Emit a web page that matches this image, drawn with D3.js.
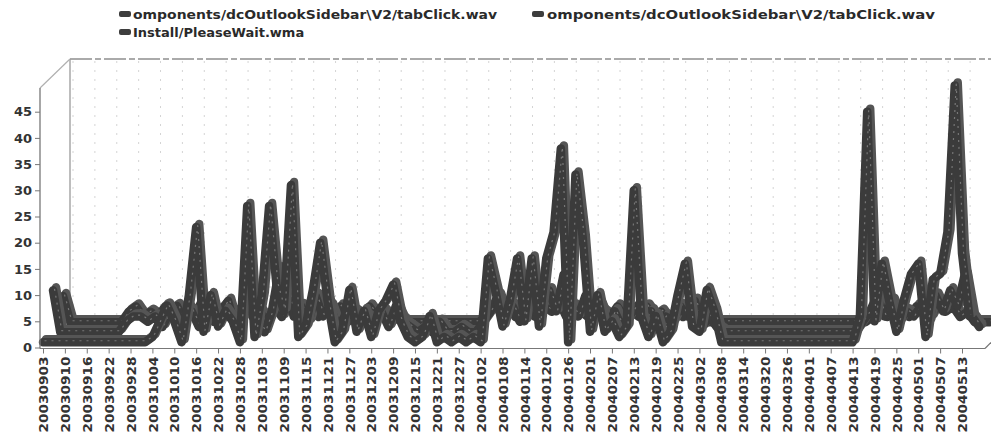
<!DOCTYPE html>
<html><head><meta charset="utf-8">
<script src="https://cdn.jsdelivr.net/npm/d3@7"></script>
<style>body{margin:0;background:#fff}svg{display:block}</style>
</head><body><svg id="c" width="991" height="442"></svg>
<script>
const tickLabels = ["20030903","20030910","20030916","20030922","20030928","20031004","20031010","20031016","20031022","20031028","20031103","20031109","20031115","20031121","20031127","20031203","20031209","20031215","20031221","20031227","20040102","20040108","20040114","20040120","20040126","20040201","20040207","20040213","20040219","20040225","20040302","20040308","20040314","20040320","20040326","20040401","20040407","20040413","20040419","20040425","20040501","20040507","20040513"];
const yTicks = [0,5,10,15,20,25,30,35,40,45];
const seriesNames = ["omponents/dcOutlookSidebar\\V2/tabClick.wav","omponents/dcOutlookSidebar\\V2/tabClick.wav","Install/PleaseWait.wma"];
// front series
const tabClickA = [1,1,1,1,1,1,1,1,1,1,1,1,1,1,1,
 2,5,8,5,1,10,23,3,10,4,7,5,1,27,2,10,27,12,7,31,2,4,11,20,9,1,3,11,3,7,2,7,9,12,5,2,
 1,2,6,1,2,1,2,1,2,1,
 17,11,4,9,17,5,17,4,17,22,38,1,33,21,3,10,3,5,2,4,30,6,2,6,1,3,10,16,4,3,11,7,
 1,1,1,1,1,1,1,1,1,1,1,1,1,1,1,1,1,1,1,
 6,45,5,16,9,3,9,14,16,2,13,14,22,50,18,6];
// middle series
const tabClickB = [9,1,1,1,1,1,1,1,1,1,
 3,4,4,3,4,2,5,6,3,5,2,6,3,5,7,2,4,6,3,1,5,13,10,4,6,3,8,4,6,2,4,5,2,4,3,5,2,6,3,2,
 1,2,1,3,1,1,2,1,1,3,
 5,8,4,6,3,7,4,6,9,5,12,6,4,8,4,6,2,5,2,4,6,3,5,2,4,3,6,4,7,2,4,2,1,
 1,1,1,1,1,1,1,1,1,1,1,1,1,1,1,1,1,1,
 3,5,8,4,7,3,5,4,6,3,8,5,9,6,12,4,2];
// back series
const pleaseWait = [6,1,1,1,1,1,1,1,1,
 3,4,2,3,2,4,3,2,4,2,5,3,2,4,2,3,5,2,3,1,4,2,6,3,2,5,2,3,2,4,1,3,2,4,2,3,1,2,
 1,1,1,1,1,1,1,1,1,1,1,
 2,4,3,5,2,4,3,2,4,3,5,2,4,3,2,5,3,2,4,2,3,2,4,2,3,1,3,2,3,2,
 1,1,1,1,1,1,1,1,1,1,1,1,1,1,1,1,1,1,1,1,1,1,1,
 2,3,2,4,3,2,4,3,2,5,3,4,2,3,
 1,1,1];

const svg = d3.select("#c");
const font = "'DejaVu Sans', Verdana, sans-serif";
const depth = 30;
const x = d3.scaleLinear().domain([0, (tickLabels.length-1)*3]).range([43, 962]);
const y = d3.scaleLinear().domain([0, 45]).range([347.5, 111.7]);
const y0 = y(0), wallTop = 59, wallLeft = 70;

// back wall gridlines
const grid = svg.append("g");
tickLabels.forEach((t,k)=>{
  grid.append("line").attr("x1", x(k*3)+depth).attr("x2", x(k*3)+depth)
    .attr("y1", wallTop+2).attr("y2", y0-depth)
    .attr("stroke","#d4d4d4").attr("stroke-width",1).attr("stroke-dasharray","2,7");
});
// wall borders
svg.append("line").attr("x1",wallLeft).attr("x2",991).attr("y1",wallTop).attr("y2",wallTop)
  .attr("stroke","#8f8f8f").attr("stroke-width",1.5).attr("stroke-dasharray","22,3,6,3");
svg.append("line").attr("x1",wallLeft).attr("x2",wallLeft).attr("y1",wallTop).attr("y2",y0-depth)
  .attr("stroke","#9a9a9a").attr("stroke-width",1.3);
svg.append("line").attr("x1",40).attr("x2",wallLeft).attr("y1",88).attr("y2",wallTop)
  .attr("stroke","#b0b0b0").attr("stroke-width",1.2);

// series (back to front), drawn as thick 3D-looking ribbons
const series = [
  {name: seriesNames[2], data: pleaseWait, k: 2},
  {name: seriesNames[1], data: tabClickB, k: 1},
  {name: seriesNames[0], data: tabClickA, k: 0}
];
series.forEach(s=>{
  const off = s.k*10;
  const mk = (dx,dy)=>d3.line().x((d,i)=>x(i)+off+dx).y(d=>y(d)-off+dy)(s.data);
  svg.append("path").attr("d", mk(3,-3)).attr("fill","none")
    .attr("stroke","#555").attr("stroke-width",8.5)
    .attr("stroke-linejoin","round").attr("stroke-linecap","round");
  svg.append("path").attr("d", mk(0,0)).attr("fill","none")
    .attr("stroke","#3b3b3b").attr("stroke-width",8.5)
    .attr("stroke-linejoin","round").attr("stroke-linecap","round");
  svg.append("path").attr("d", mk(1.5,-1.5)).attr("fill","none")
    .attr("stroke","#777").attr("stroke-width",1.2).attr("stroke-dasharray","2,5")
    .attr("stroke-linejoin","round");
});

// y axis
svg.append("line").attr("x1",40).attr("x2",40).attr("y1",88).attr("y2",y0+1)
  .attr("stroke","#777").attr("stroke-width",1.3);
const ya = svg.append("g").attr("transform","translate(40,0)")
  .call(d3.axisLeft(y).tickValues(yTicks).tickSize(5).tickPadding(3));
ya.select(".domain").remove();
ya.selectAll(".tick line").attr("stroke","#777");
ya.selectAll("text").attr("font-family",font).attr("font-size",13).attr("font-weight","bold")
  .attr("fill","#333");

// x axis
svg.append("line").attr("x1",40).attr("x2",985).attr("y1",y0+1).attr("y2",y0+1)
  .attr("stroke","#777").attr("stroke-width",1.2);
svg.append("line").attr("x1",985).attr("x2",991).attr("y1",y0+1).attr("y2",y0-5)
  .attr("stroke","#777").attr("stroke-width",1.2);
const xa = svg.append("g").attr("transform",`translate(0,${y0+1})`)
  .call(d3.axisBottom(x).tickValues(tickLabels.map((t,k)=>k*3))
    .tickFormat((d)=>tickLabels[d/3]).tickSize(5));
xa.select(".domain").remove();
xa.selectAll(".tick line").attr("stroke","#777");
xa.selectAll("text").attr("font-family",font).attr("font-size",13).attr("font-weight","bold")
  .attr("fill","#333").attr("text-anchor","end")
  .attr("transform","rotate(-90)").attr("x",-8).attr("y",0).attr("dy","0.36em")
  .attr("textLength",76).attr("lengthAdjust","spacingAndGlyphs");

// legend
const legendItems = [
  {name: seriesNames[0], mx: 119, my: 14, tx: 133, len: 364},
  {name: seriesNames[1], mx: 532, my: 14, tx: 547, len: 388},
  {name: seriesNames[2], mx: 119, my: 32, tx: 133, len: null}
];
legendItems.forEach(l=>{
  svg.append("rect").attr("x",l.mx).attr("y",l.my-3).attr("width",12).attr("height",6)
    .attr("rx",2).attr("fill","#3d3d3d");
  const t = svg.append("text").attr("x",l.tx).attr("y",l.my+5).text(l.name)
    .attr("font-family",font).attr("font-size",13).attr("font-weight","bold").attr("fill","#2a2a2a");
  if (l.len) t.attr("textLength",l.len).attr("lengthAdjust","spacingAndGlyphs");
});
</script></body></html>
